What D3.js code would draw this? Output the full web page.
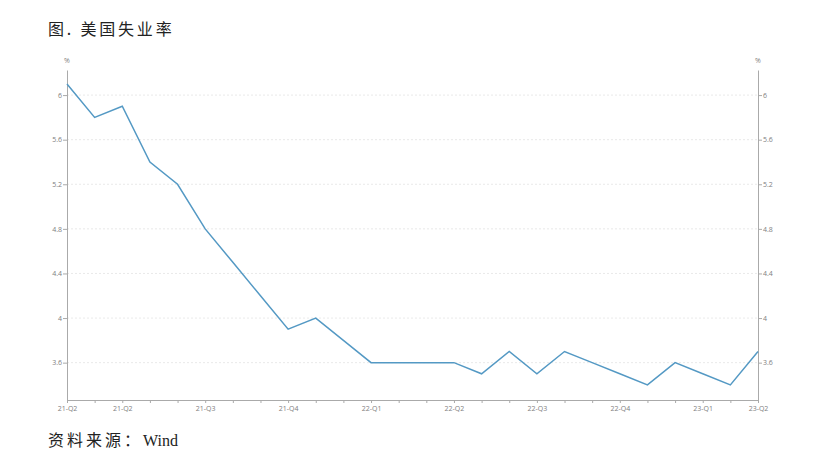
<!DOCTYPE html>
<html><head><meta charset="utf-8">
<script src="https://cdn.jsdelivr.net/npm/d3@7"></script>
<style>body{margin:0;background:#fff}</style>
</head><body>
<svg id="c" width="830" height="458"></svg>
<script>
const months = ["2021-04","2021-05","2021-06","2021-07","2021-08","2021-09","2021-10","2021-11","2021-12",
"2022-01","2022-02","2022-03","2022-04","2022-05","2022-06","2022-07","2022-08","2022-09","2022-10","2022-11","2022-12",
"2023-01","2023-02","2023-03","2023-04","2023-05"];
const unemployment = [6.1,5.8,5.9,5.4,5.2,4.8,4.5,4.2,3.9,4.0,3.8,3.6,3.6,3.6,3.6,3.5,3.7,3.5,3.7,3.6,3.5,3.4,3.6,3.5,3.4,3.7];
const xLabels = {0:"21-Q2",2:"21-Q2",5:"21-Q3",8:"21-Q4",11:"22-Q1",14:"22-Q2",17:"22-Q3",20:"22-Q4",23:"23-Q1",25:"23-Q2"};
const yTicks = [3.6,4,4.4,4.8,5.2,5.6,6];
const title = "图. 美国失业率";
const sourceLabel = "资料来源：";
const sourceName = "Wind";

const svg = d3.select("#c");
const x = d3.scalePoint().domain(months).range([67,758]);
const y = d3.scaleLinear().domain([3.265,6.225]).range([400,70]);
const tickFont = "Open Sans, DejaVu Sans, sans-serif";

// grid
svg.append("g").selectAll("line").data(yTicks).join("line")
  .attr("x1",67).attr("x2",758).attr("y1",d=>y(d)).attr("y2",d=>y(d))
  .attr("stroke","#e3e3e3").attr("stroke-dasharray","2,2").attr("stroke-width",0.8);

function styleAxis(g){
  g.selectAll(".domain").attr("stroke","#aaa");
  g.selectAll(".tick line").attr("stroke","#aaa");
  g.selectAll("text").attr("fill","#808080").style("font-family",tickFont).style("font-size","7px");
}
const fmt = d => d3.format("")(+d.toFixed(1));
svg.append("g").attr("transform","translate(67,0)")
  .call(d3.axisLeft(y).tickValues(yTicks).tickFormat(fmt).tickSize(4).tickSizeOuter(0).tickPadding(1))
  .call(styleAxis);
svg.append("g").attr("transform","translate(758,0)")
  .call(d3.axisRight(y).tickValues(yTicks).tickFormat(fmt).tickSize(4).tickSizeOuter(0).tickPadding(1))
  .call(styleAxis);
svg.append("g").attr("transform","translate(0,400)")
  .call(d3.axisBottom(x).tickFormat((d,i)=>xLabels[i]||"").tickSize(3).tickSizeOuter(0).tickPadding(3))
  .call(styleAxis);

svg.append("text").attr("x",67).attr("y",63).attr("text-anchor","middle")
  .attr("fill","#808080").style("font-family",tickFont).style("font-size","7px").text("%");
svg.append("text").attr("x",758).attr("y",63).attr("text-anchor","middle")
  .attr("fill","#808080").style("font-family",tickFont).style("font-size","7px").text("%");

svg.append("path").datum(unemployment)
  .attr("fill","none").attr("stroke","#5499c4").attr("stroke-width",1.5)
  .attr("d", d3.line().x((d,i)=>x(months[i])).y(d=>y(d)));

svg.append("text").attr("x",48).attr("y",35)
  .style("font-family","'Noto Sans CJK SC',serif").style("font-size","16px")
  .style("letter-spacing","2.8px").style("font-weight","400")
  .attr("fill","#222").text(title);
const src = svg.append("text").attr("x",48).attr("y",446)
  .style("font-size","16px").attr("fill","#222");
src.append("tspan").style("font-family","'Noto Sans CJK SC',serif").style("letter-spacing","3px").text(sourceLabel);
src.append("tspan").style("font-family","'Liberation Serif',serif").text(sourceName);
</script>
</body></html>
